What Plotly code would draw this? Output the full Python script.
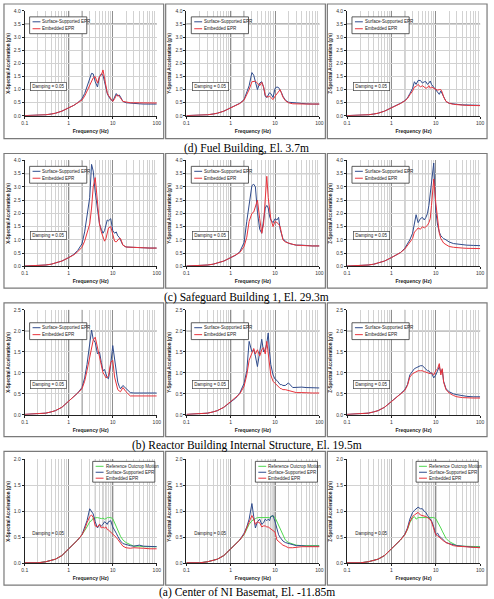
import math
import plotly.graph_objects as go

# ---------------- data ----------------
freq = [0.1, 0.2, 0.3, 0.4, 0.5, 0.7, 1.0, 1.3, 1.6, 2.0, 2.3, 2.6, 3.0, 3.3, 3.6,
        4.0, 4.5, 5.0, 5.5, 6.0, 6.5, 7.0, 7.5, 8.0, 9.0, 10, 11, 12, 13, 14, 15,
        17, 20, 25, 30, 40, 50, 70, 100]

# (d) Fuel Building, El. 3.7m
fuel_x_surf = [0.01,0.02,0.04,0.07,0.1,0.18, 0.3,0.4,0.5, 0.65,0.85,1.1, 1.45,1.62,1.6, 1.3,1.1,1.5,1.6, 1.55,1.3,1.0,0.85, 0.75,0.62,0.56, 0.7,0.85,0.75,0.8,0.72, 0.55,0.5,0.48,0.47, 0.46,0.45,0.45,0.45]
fuel_x_emb = [0.01,0.02,0.04,0.07,0.1,0.18, 0.3,0.4,0.5, 0.6,0.75,0.95, 1.15,1.3,1.45, 1.5,1.25,1.5,1.55, 1.75,1.45,1.05,0.88, 0.78,0.63,0.55, 0.65,0.78,0.8,0.75,0.68, 0.55,0.52,0.5,0.5, 0.5,0.5,0.5,0.49]
fuel_y_surf = [0.01,0.02,0.04,0.07,0.1,0.18, 0.3,0.38,0.48, 0.62,0.9,1.15, 1.65,1.55,1.3, 1.0,1.25,1.3,1.1, 0.75,0.7,0.78,0.88, 0.85,0.7,1.05, 1.1,1.08,1.0,0.88,0.75, 0.6,0.52,0.5,0.48, 0.47,0.46,0.45,0.45]
fuel_y_emb = [0.01,0.02,0.04,0.07,0.1,0.18, 0.3,0.38,0.47, 0.6,0.8,1.0, 1.3,1.32,1.32, 1.25,1.15,1.28,1.1, 0.8,0.72,0.72,0.75, 0.7,0.62,0.75, 0.85,0.95,1.0,0.85,0.72, 0.58,0.5,0.46,0.45, 0.45,0.45,0.45,0.45]
fuel_z_surf = [0.01,0.02,0.04,0.07,0.1,0.18, 0.3,0.38,0.48, 0.58,0.68,0.85, 1.05,1.3,1.2, 1.35,1.35,1.25,1.3, 1.3,1.2,1.25,1.33, 1.2,1.1,1.0, 0.9,0.82,0.95,0.85,0.72, 0.55,0.48,0.45,0.44, 0.42,0.41,0.4,0.4]
fuel_z_emb = [0.01,0.02,0.04,0.07,0.1,0.18, 0.3,0.38,0.47, 0.57,0.66,0.8, 0.95,1.1,1.12, 1.2,1.1,1.15,1.1, 1.05,1.08,1.15,1.05, 1.1,1.05,1.0, 0.98,1.0,1.0,0.9,0.72, 0.55,0.48,0.44,0.42, 0.41,0.4,0.39,0.39]

# (c) Safeguard Building 1, El. 29.3m
safe_x_surf = [0.01,0.02,0.05,0.08,0.12,0.2, 0.33,0.45,0.6, 0.85,1.3,1.9, 2.6,3.85,3.6, 2.8,2.1,1.6,1.4, 1.25,1.35,1.55,1.75, 1.72,1.8,1.35, 1.25,1.3,1.15,1.1,1.0, 0.8,0.73,0.72,0.71, 0.7,0.7,0.69,0.69]
safe_x_emb = [0.01,0.02,0.05,0.08,0.12,0.2, 0.33,0.43,0.55, 0.72,0.95,1.25, 1.6,2.2,3.0, 3.35,2.3,1.6,1.3, 1.1,0.95,1.05,1.3, 1.45,1.5,1.2, 0.95,0.92,1.0,1.05,1.05, 0.8,0.73,0.72,0.71, 0.7,0.7,0.69,0.69]
safe_y_surf = [0.01,0.02,0.05,0.08,0.12,0.2, 0.33,0.42,0.55, 0.9,1.7,2.4, 3.05,3.1,3.0, 2.05,1.4,1.25,1.7, 2.2,2.3,2.2,1.9, 1.75,1.65,1.8, 1.75,1.85,1.4,1.15,1.05, 0.95,0.87,0.83,0.8, 0.8,0.78,0.77,0.77]
safe_y_emb = [0.01,0.02,0.05,0.08,0.12,0.2, 0.33,0.42,0.52, 0.75,1.1,1.7, 2.0,2.05,2.3, 2.5,1.8,1.25,1.6, 2.6,3.4,2.6,2.1, 1.8,1.5,1.7, 1.65,1.6,1.5,1.2,1.0, 0.92,0.87,0.83,0.8, 0.8,0.78,0.77,0.77]
safe_z_surf = [0.01,0.02,0.05,0.08,0.12,0.2, 0.33,0.42,0.52, 0.68,0.85,1.0, 1.25,1.7,1.95, 1.65,1.8,1.85,1.75, 1.85,2.0,2.3,2.8, 3.3,3.9,2.1, 1.55,1.3,1.15,1.1,1.05, 1.0,0.92,0.86,0.84, 0.82,0.8,0.79,0.78]
safe_z_emb = [0.01,0.02,0.05,0.08,0.12,0.2, 0.33,0.42,0.52, 0.65,0.8,0.9, 1.05,1.3,1.35, 1.45,1.4,1.5,1.45, 1.5,1.55,1.65,1.8, 2.3,3.3,2.4, 1.65,1.25,1.05,0.95,0.88, 0.82,0.75,0.72,0.7, 0.69,0.68,0.67,0.67]

# (b) Reactor Building Internal Structure, El. 19.5m
reac_x_surf = [0.01,0.02,0.04,0.07,0.1,0.18, 0.32,0.42,0.52, 0.65,0.88,1.2, 1.67,2.02,1.8, 1.72,1.45,1.5,1.25, 1.05,1.08,1.0,0.88, 0.86,1.2,1.65, 1.3,0.98,0.78,0.68,0.62, 0.7,0.62,0.53,0.52, 0.52,0.52,0.52,0.52]
reac_x_emb = [0.01,0.02,0.04,0.07,0.1,0.18, 0.32,0.42,0.52, 0.62,0.8,1.05, 1.4,1.6,1.78, 1.85,1.6,1.45,1.25, 1.0,0.95,0.88,0.9, 0.92,1.25,1.3, 0.9,0.7,0.6,0.57,0.55, 0.65,0.55,0.45,0.45, 0.45,0.45,0.45,0.45]
reac_y_surf = [0.01,0.02,0.04,0.07,0.1,0.18, 0.32,0.4,0.52, 0.75,1.05,1.75, 1.5,1.55,1.4, 1.15,1.5,1.8,1.5, 1.55,1.7,1.95,1.5, 1.2,0.95,0.85, 0.82,0.75,0.72,0.72,0.7, 0.7,0.76,0.65,0.66, 0.66,0.65,0.64,0.64]
reac_y_emb = [0.01,0.02,0.04,0.07,0.1,0.18, 0.32,0.4,0.5, 0.68,0.95,1.3, 1.5,1.58,1.45, 1.55,1.4,1.55,1.6, 1.45,1.75,1.5,1.25, 0.95,0.8,0.75, 0.7,0.65,0.63,0.62,0.6, 0.6,0.58,0.55,0.53, 0.53,0.52,0.52,0.52]
reac_z_surf = [0.01,0.02,0.04,0.07,0.1,0.18, 0.32,0.4,0.5, 0.6,0.72,0.95, 1.05,1.1,1.12, 1.15,1.17,1.17,1.13, 1.1,1.05,1.05,1.0, 1.0,0.88,0.95, 1.05,1.15,1.0,1.08,0.8, 0.62,0.55,0.5,0.48, 0.45,0.44,0.43,0.43]
reac_z_emb = [0.01,0.02,0.04,0.07,0.1,0.18, 0.32,0.4,0.5, 0.58,0.7,0.9, 0.98,1.0,1.02, 1.05,1.05,1.05,1.03, 1.02,1.0,1.0,0.98, 1.0,0.95,1.05, 1.1,1.22,0.95,1.1,0.78, 0.6,0.52,0.46,0.43, 0.41,0.4,0.4,0.4]

# (a) Center of NI Basemat, El. -11.85m
base_x_ref = [0.01,0.01,0.03,0.05,0.08,0.15, 0.28,0.36,0.45, 0.55,0.62,0.7, 0.8,0.82,0.87, 0.88,0.88,0.87,0.86, 0.87,0.85,0.86,0.88, 0.88,0.88,0.86, 0.78,0.7,0.62,0.57,0.52, 0.45,0.4,0.36,0.33, 0.33,0.32,0.32,0.32]
base_x_surf = [0.01,0.01,0.03,0.05,0.08,0.15, 0.28,0.36,0.45, 0.55,0.68,0.82, 1.05,1.0,0.95, 0.8,0.68,0.75,0.72, 0.75,0.8,0.78,0.75, 0.8,0.82,0.7, 0.62,0.58,0.52,0.47,0.43, 0.38,0.36,0.34,0.33, 0.35,0.33,0.32,0.32]
base_x_emb = [0.01,0.01,0.03,0.05,0.08,0.15, 0.28,0.36,0.45, 0.55,0.65,0.78, 0.9,0.93,0.88, 0.72,0.7,0.75,0.68, 0.7,0.68,0.7,0.65, 0.64,0.6,0.58, 0.53,0.5,0.46,0.42,0.38, 0.33,0.3,0.29,0.3, 0.3,0.29,0.28,0.28]
base_y_ref = [0.01,0.01,0.03,0.05,0.08,0.15, 0.28,0.36,0.45, 0.55,0.65,0.75, 0.82,0.85,0.86, 0.88,0.88,0.88,0.88, 0.88,0.88,0.88,0.88, 0.9,0.91,0.88, 0.8,0.72,0.65,0.58,0.52, 0.45,0.4,0.37,0.35, 0.34,0.34,0.34,0.34]
base_y_surf = [0.01,0.01,0.03,0.05,0.08,0.15, 0.28,0.36,0.45, 0.58,0.7,0.85, 1.15,0.9,0.68, 0.8,0.85,0.75,0.78, 0.85,0.82,0.85,0.82, 0.9,0.92,0.8, 0.65,0.55,0.5,0.45,0.43, 0.4,0.38,0.35,0.34, 0.34,0.33,0.33,0.33]
base_y_emb = [0.01,0.01,0.03,0.05,0.08,0.15, 0.28,0.36,0.45, 0.56,0.68,0.8, 0.92,0.85,0.75, 0.8,0.78,0.7,0.72, 0.72,0.7,0.7,0.68, 0.65,0.63,0.6, 0.45,0.42,0.4,0.38,0.35, 0.33,0.3,0.3,0.31, 0.32,0.32,0.32,0.32]
base_z_ref = [0.01,0.01,0.03,0.05,0.08,0.15, 0.28,0.36,0.45, 0.55,0.65,0.78, 0.87,0.9,0.85, 0.88,0.88,0.88,0.87, 0.88,0.88,0.88,0.87, 0.88,0.88,0.86, 0.8,0.75,0.68,0.62,0.56, 0.48,0.42,0.37,0.34, 0.33,0.33,0.32,0.32]
base_z_surf = [0.01,0.01,0.03,0.05,0.08,0.15, 0.28,0.36,0.45, 0.56,0.68,0.85, 0.98,1.02,1.05, 1.08,1.05,1.05,1.0, 0.98,0.92,0.88,0.86, 0.82,0.7,0.55, 0.58,0.52,0.5,0.47,0.45, 0.4,0.38,0.35,0.34, 0.33,0.32,0.31,0.31]
base_z_emb = [0.01,0.01,0.03,0.05,0.08,0.15, 0.28,0.36,0.45, 0.55,0.66,0.8, 0.9,0.93,0.95, 0.98,0.93,0.92,0.9, 0.9,0.88,0.86,0.84, 0.8,0.68,0.55, 0.53,0.5,0.48,0.45,0.43, 0.4,0.37,0.34,0.33, 0.32,0.31,0.3,0.3]

captions = ["(d) Fuel Building, El. 3.7m",
            "(c) Safeguard Building 1, El. 29.3m",
            "(b) Reactor Building Internal Structure, El. 19.5m",
            "(a) Center of NI Basemat, El. -11.85m"]
y_max = [4.0, 4.0, 2.5, 2.0]
damping_y = [1.13, 1.18, 0.73, 0.57]
x_ticks = [0.1, 1, 10, 100]
x_tick_text = ["0.1", "1", "10", "100"]
minor_vals = [m * d for d in (0.1, 1, 10) for m in range(2, 10)]

N_REF, N_SURF, N_EMB = "Reference Outcrop Motion", "Surface-Supported EPR", "Embedded EPR"
BLUE, RED, GREEN = "#2f4b8c", "#e8343c", "#4fd84f"

rows = [
    [("X", [(N_SURF, fuel_x_surf, BLUE), (N_EMB, fuel_x_emb, RED)]),
     ("Y", [(N_SURF, fuel_y_surf, BLUE), (N_EMB, fuel_y_emb, RED)]),
     ("Z", [(N_SURF, fuel_z_surf, BLUE), (N_EMB, fuel_z_emb, RED)])],
    [("X", [(N_SURF, safe_x_surf, BLUE), (N_EMB, safe_x_emb, RED)]),
     ("Y", [(N_SURF, safe_y_surf, BLUE), (N_EMB, safe_y_emb, RED)]),
     ("Z", [(N_SURF, safe_z_surf, BLUE), (N_EMB, safe_z_emb, RED)])],
    [("X", [(N_SURF, reac_x_surf, BLUE), (N_EMB, reac_x_emb, RED)]),
     ("Y", [(N_SURF, reac_y_surf, BLUE), (N_EMB, reac_y_emb, RED)]),
     ("Z", [(N_SURF, reac_z_surf, BLUE), (N_EMB, reac_z_emb, RED)])],
    [("X", [(N_REF, base_x_ref, GREEN), (N_SURF, base_x_surf, BLUE), (N_EMB, base_x_emb, RED)]),
     ("Y", [(N_REF, base_y_ref, GREEN), (N_SURF, base_y_surf, BLUE), (N_EMB, base_y_emb, RED)]),
     ("Z", [(N_REF, base_z_ref, GREEN), (N_SURF, base_z_surf, BLUE), (N_EMB, base_z_emb, RED)])],
]

# ---------------- layout geometry (pixels) ----------------
W, H = 494, 599
col_plot = [(22, 156), (186, 321), (349, 484)]
row_plot = [(8, 114), (159, 266), (310, 416), (461, 566)]
col_box = [(1, 163), (165, 327), (329, 491)]
row_box = [(1, 137), (152, 288), (303, 438), (453, 588)]
caption_y = [147, 297, 447, 595]

SANS = "Liberation Sans, Arial, sans-serif"
SERIF = "Liberation Serif, Times New Roman, serif"

def pxx(x):
    return x / W

def pxy(y):
    return 1 - y / H

fig = go.Figure()
layout = dict(width=W, height=H, margin=dict(l=0, r=0, t=0, b=0),
              paper_bgcolor="white", plot_bgcolor="white", showlegend=False)
shapes, annotations = [], []

for r, row in enumerate(rows):
    for c, (axname, series) in enumerate(row):
        k = r * 3 + c + 1
        xs = "" if k == 1 else str(k)
        x0, x1 = col_plot[c]
        y0, y1 = row_plot[r]
        for name, vals, color in series:
            fig.add_trace(go.Scatter(x=freq, y=vals, mode="lines", name=name,
                                     line=dict(color=color, width=1),
                                     xaxis="x" + xs, yaxis="y" + xs))
        layout["xaxis" + xs] = dict(
            type="log", range=[-1, 2], domain=[pxx(x0), pxx(x1)], anchor="y" + xs,
            tickvals=x_ticks, ticktext=x_tick_text,
            showgrid=True, gridcolor="#8f8f8f", gridwidth=0.8,
            minor=dict(tickvals=minor_vals, showgrid=True, gridcolor="#d2d2d2", gridwidth=0.7),
            showline=True, linecolor="#222", linewidth=0.8,
            ticks="outside", ticklen=2, tickcolor="#222",
            tickfont=dict(size=5, family=SANS, color="#333"),
            title=dict(text="<b>Frequency (Hz)</b>", font=dict(size=5, family=SANS, color="#222"), standoff=4),
            zeroline=False)
        layout["yaxis" + xs] = dict(
            range=[0, y_max[r]], domain=[pxy(y1), pxy(y0)], anchor="x" + xs,
            dtick=0.5, tick0=0, tickformat=".1f",
            showgrid=True, gridcolor="#d2d2d2", gridwidth=0.7,
            showline=True, linecolor="#222", linewidth=0.8,
            ticks="outside", ticklen=2, tickcolor="#222",
            tickfont=dict(size=5, family=SANS, color="#333"),
            title=dict(text="<b>%s-Spectral Acceleration (g's)</b>" % axname,
                       font=dict(size=4.5, family=SANS, color="#222"), standoff=3),
            zeroline=False)

        # darker reference grid lines as in the original
        if r < 3:
            for f in (1, 2):
                fx = (math.log10(f) + 1) / 3
                shapes.append(dict(type="line", xref="x%s domain" % xs, yref="y%s domain" % xs,
                                   x0=fx, x1=fx, y0=0, y1=1, layer="below",
                                   line=dict(color="#555", width=0.9)))
            hy = 3.5 if r < 2 else 2.0
            shapes.append(dict(type="line", xref="x%s domain" % xs, yref="y" + xs,
                               x0=0, x1=1, y0=hy, y1=hy, layer="below",
                               line=dict(color="#555", width=0.9)))
        else:
            for f in (4, 5, 6, 7, 8, 9, 10):
                fx = (math.log10(f) + 1) / 3
                shapes.append(dict(type="line", xref="x%s domain" % xs, yref="y%s domain" % xs,
                                   x0=fx, x1=fx, y0=0, y1=1, layer="below",
                                   line=dict(color="#444" if f == 10 else "#999", width=0.8)))

        # panel frame
        bx0, bx1 = col_box[c]
        by0, by1 = row_box[r]
        shapes.append(dict(type="rect", xref="paper", yref="paper",
                           x0=pxx(bx0), x1=pxx(bx1), y0=pxy(by1), y1=pxy(by0),
                           line=dict(color="#7a7a7a", width=1.2)))

        # legend box
        if r < 3:
            lx0 = x0 + 5
            ly0 = y0 + (13 if r == 2 else 6)
            lw, lh, step, first = 58, 17, 7, 5
        else:
            lx0 = x1 - 65
            ly0 = y0 + 2
            lw, lh, step, first = 63, 21, 6, 5
        shapes.append(dict(type="rect", xref="paper", yref="paper",
                           x0=pxx(lx0), x1=pxx(lx0 + lw), y0=pxy(ly0 + lh), y1=pxy(ly0),
                           fillcolor="white", line=dict(color="#333", width=0.8), layer="above"))
        for j, (name, vals, color) in enumerate(series):
            yy = ly0 + first + j * step
            shapes.append(dict(type="line", xref="paper", yref="paper",
                               x0=pxx(lx0 + 3), x1=pxx(lx0 + 11), y0=pxy(yy), y1=pxy(yy),
                               line=dict(color=color, width=1), layer="above"))
            annotations.append(dict(xref="paper", yref="paper", x=pxx(lx0 + 11), y=pxy(yy),
                                    xanchor="left", yanchor="middle", showarrow=False,
                                    text=name, font=dict(size=4.5, family=SANS, color="#222")))

        # damping label
        annotations.append(dict(xref="x" + xs, yref="y" + xs, x=math.log10(0.135), y=damping_y[r],
                                xanchor="left", yanchor="middle", showarrow=False,
                                text="Damping = 0.05", font=dict(size=4.5, family=SANS, color="#222"),
                                bgcolor="white" if r < 3 else "rgba(0,0,0,0)",
                                bordercolor="#444" if r < 3 else "rgba(0,0,0,0)",
                                borderwidth=0.7, borderpad=1.5))

for r, cap in enumerate(captions):
    annotations.append(dict(xref="paper", yref="paper", x=0.5, y=pxy(caption_y[r]),
                            xanchor="center", yanchor="middle", showarrow=False,
                            text=cap, font=dict(size=11.5, family=SERIF, color="#000")))

layout["shapes"] = shapes
layout["annotations"] = annotations
fig.update_layout(**layout)
fig.write_html("out.html")
